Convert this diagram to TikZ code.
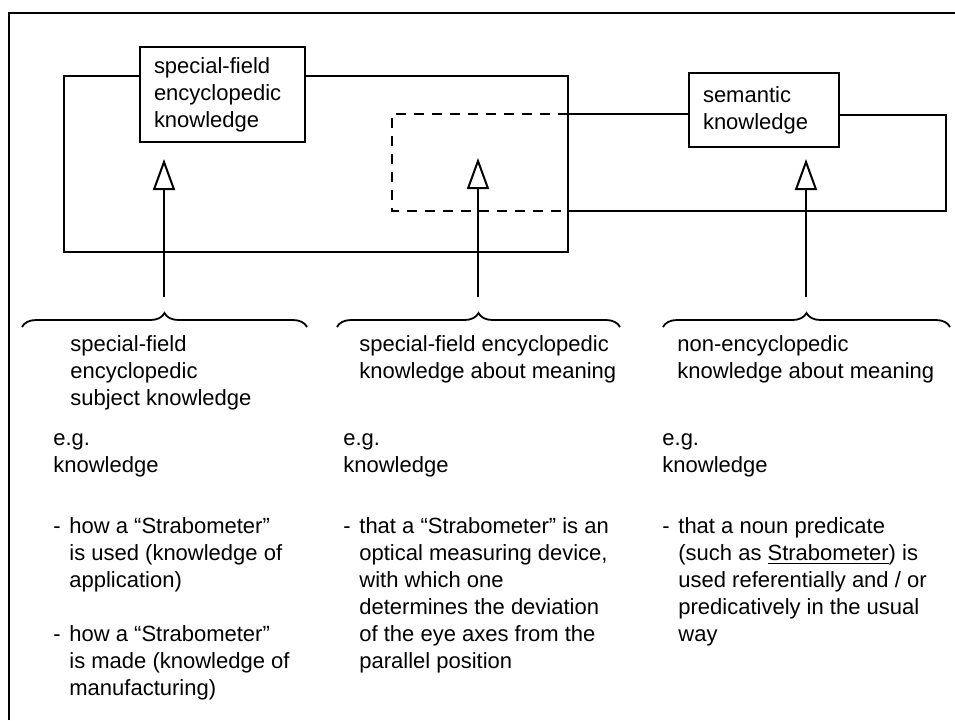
\documentclass[tikz,border=0pt]{standalone}
\usepackage{fontspec}
\setmainfont{Liberation Sans}
\usetikzlibrary{arrows.meta, decorations.pathreplacing}

\newcommand{\dashlead}{\makebox[8pt][l]{-}}
\newcommand{\dashskip}{\hspace*{8pt}}

\tikzset{
    box/.style={draw, fill=white, line width=1pt, anchor=north west, align=left,
        inner xsep=7pt, font=\fontsize{11}{13.5}\selectfont},
    txt/.style={anchor=north west, inner sep=0pt, align=left,
        font=\fontsize{11}{13.5}\selectfont,
        execute at begin node={\rule{0pt}{9pt}}},
    loopline/.style={line width=0.9pt},
    dashline/.style={line width=1pt, dash pattern=on 5pt off 4pt},
    uparrow/.style={line width=1pt, -{Triangle[open, length=15.5pt, width=11pt, line width=1pt]}},
    brc/.style={line width=0.9pt, decorate, decoration={brace, amplitude=7pt}}
}

\begin{document}
\begin{tikzpicture}[x=0.5pt, y=-0.5pt]
        \useasboundingbox (0,0) rectangle (955,720);
        % frame
        \draw[line width=1pt] (9,720) -- (9,13) -- (955,13);
        % joints where the two loops cross
        \coordinate (J1) at (568,114);
        \coordinate (J2) at (568,211);
        % loops
        \draw[loopline] (139,76) -| (64,252) -| (568,76) -- (304,76);
        \draw[loopline] (688,114) -- (J1);
        \draw[dashline] (J1) -- (392,114) -- (392,211) -- (J2);
        \draw[loopline] (J2) -- (946,211) -- (946,115) -- (838,115);
        % boxes
        \node[box, text width=68.5pt, minimum height=47.5pt] (sfe) at (139,46) {special-field\\encyclopedic\\knowledge};
        \node[box, text width=61pt, minimum height=37pt] (sem) at (688,72) {semantic\\knowledge};
        % arrows
        \coordinate (A1) at (164,297); \coordinate (T1) at (164,159);
        \coordinate (A2) at (478,297); \coordinate (T2) at (478,158);
        \coordinate (A3) at (806,297); \coordinate (T3) at (806,159);
        \draw[uparrow] (A1) -- (T1);
        \draw[uparrow] (A2) -- (T2);
        \draw[uparrow] (A3) -- (T3);
        % braces
        \draw[brc] (22,327) -- (307,327);
        \draw[brc] (337,327) -- (620,327);
        \draw[brc] (663,327) -- (950,327);
        % labels under the braces
        \node[txt] (subj) at (70,335) {special-field\\encyclopedic\\subject knowledge};
        \node[txt] (encm) at (359,335) {special-field encyclopedic\\knowledge about meaning};
        \node[txt] (nenm) at (677,335) {non-encyclopedic\\knowledge about meaning};
        \node[txt] (eg1) at (53,433) {e.g.\\knowledge};
        \node[txt] (eg2) at (343,433) {e.g.\\knowledge};
        \node[txt] (eg3) at (662,433) {e.g.\\knowledge};
        \node[txt] (ex1) at (53,517) {\dashlead how a ``Strabometer''\\
            \dashskip is used (knowledge of\\
            \dashskip application)\\[13.5pt]
            \dashlead how a ``Strabometer''\\
            \dashskip is made (knowledge of\\
            \dashskip manufacturing)};
        \node[txt] (ex2) at (343,517) {\dashlead that a ``Strabometer'' is an\\
            \dashskip optical measuring device,\\
            \dashskip with which one\\
            \dashskip determines the deviation\\
            \dashskip of the eye axes from the\\
            \dashskip parallel position};
        \node[txt] (ex3) at (662,517) {\dashlead that a noun predicate\\
            \dashskip (such as \underline{Strabometer}) is\\
            \dashskip used referentially and / or\\
            \dashskip predicatively in the usual\\
            \dashskip way};
    \end{tikzpicture}
\end{document}
